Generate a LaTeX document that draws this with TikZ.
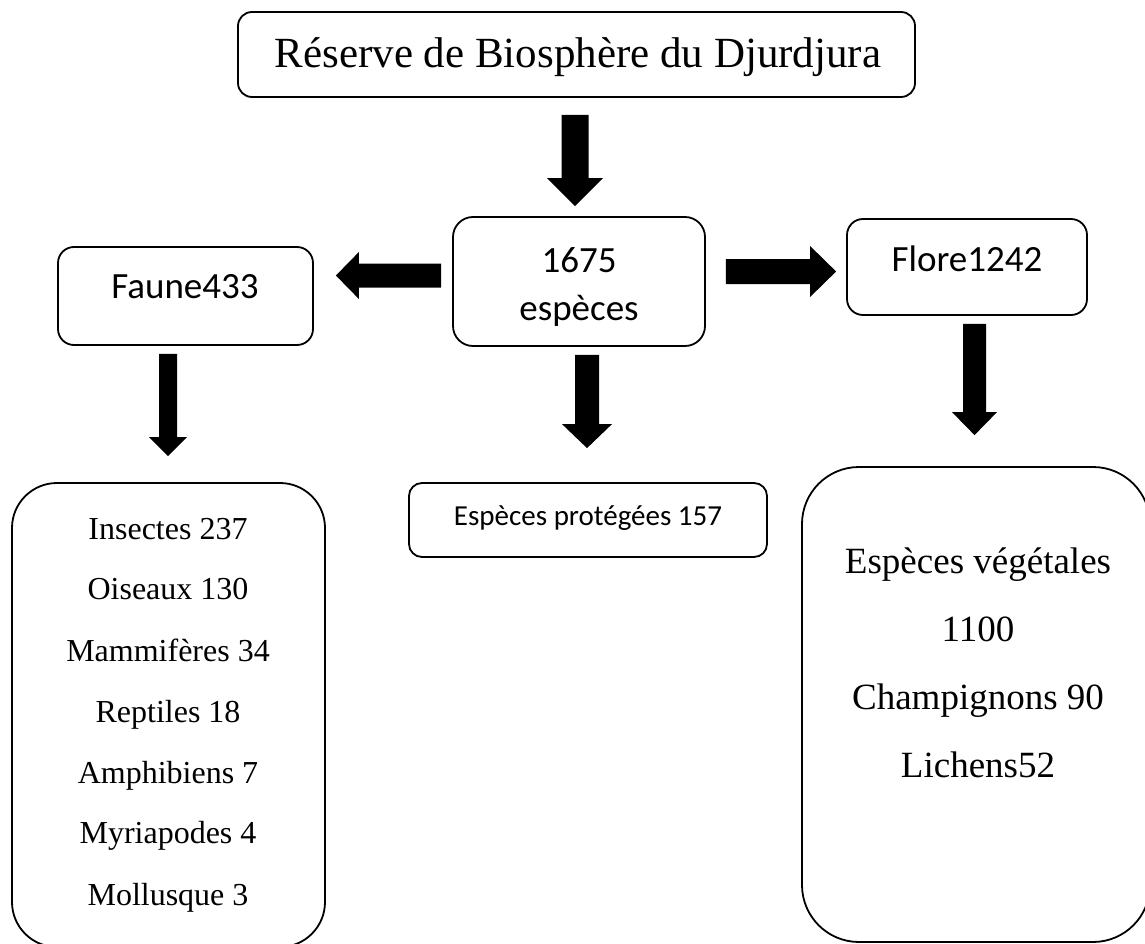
\documentclass[tikz,border=0pt]{standalone}
\usepackage{fontspec}
\setmainfont{Liberation Serif}
\newfontfamily\calib{Carlito}
\usetikzlibrary{calc}
\newcommand\blockV[5]{\fill let \p1=(#1),\p2=(#2) in ({\x1-#3},\y1) -- ({\x1+#3},\y1) -- ({\x1+#3},{\y2+(#5)}) -- ({\x1+#4},{\y2+(#5)}) -- (\x1,\y2) -- ({\x1-#4},{\y2+(#5)}) -- ({\x1-#3},{\y2+(#5)}) -- cycle;}
\newcommand\blockH[5]{\fill let \p1=(#1),\p2=(#2) in (\x1,{\y1-#3}) -- (\x1,{\y1+#3}) -- ({\x2+(#5)},{\y1+#3}) -- ({\x2+(#5)},{\y1+#4}) -- (\x2,\y1) -- ({\x2+(#5)},{\y1-#4}) -- ({\x2+(#5)},{\y1-#3}) -- cycle;}
\begin{document}
\begin{tikzpicture}[x=1pt,y=-1pt,
  box/.style={draw, line width=1.8pt, rectangle, inner sep=0pt},
  txt/.style={anchor=base, inner sep=0pt},
  serifL/.style={font=\fontsize{43}{50}\selectfont},
  serifM/.style={font=\fontsize{32}{38}\selectfont},
  serifB/.style={font=\fontsize{37}{44}\selectfont},
  sansM/.style={font=\calib\fontsize{37}{44}\selectfont},
  sansS/.style={font=\calib\fontsize{29}{35}\selectfont}]
\useasboundingbox (0,0) rectangle (1145,944);
\fill[white] (0,0) rectangle (1145,944);
\clip (0,0) rectangle (1145,944);

% boxes
\node[box, rounded corners=14pt, minimum width=677pt, minimum height=85pt] (reserve) at (576.5,54.5) {};
\node[box, rounded corners=20pt, minimum width=252pt, minimum height=129pt] (especes) at (579,281.5) {};
\node[box, rounded corners=16pt, minimum width=255pt, minimum height=98pt] (faune) at (185.5,296) {};
\node[box, rounded corners=16pt, minimum width=240pt, minimum height=96pt] (flore) at (967,267) {};
\node[box, rounded corners=13pt, minimum width=358pt, minimum height=74pt] (proteg) at (588,520) {};
\node[box, rounded corners=45pt, minimum width=313pt, minimum height=464pt] (faunelist) at (168.5,715) {};
\node[box, rounded corners=57pt, minimum width=348pt, minimum height=475pt] (florelist) at (976,704.5) {};

% texts
\node[txt, serifL] (t0) at (578,68) {Réserve de Biosphère du Djurdjura};
\node[txt, sansM] (t1) at (579,272) {1675};
\node[txt, sansM] (t2) at (579,320) {espèces};
\node[txt, sansM] (t3) at (185,298) {Faune433};
\node[txt, sansM] (t4) at (967,271) {Flore1242};
\node[txt, sansS] (t5) at (588,525) {Espèces protégées 157};

\node[txt, serifM] (f1) at (168,539) {Insectes 237};
\node[txt, serifM] (f2) at (168,599) {Oiseaux 130};
\node[txt, serifM] (f3) at (168,661) {Mammifères 34};
\node[txt, serifM] (f4) at (168,722) {Reptiles 18};
\node[txt, serifM] (f5) at (168,783) {Amphibiens 7};
\node[txt, serifM] (f6) at (168,843) {Myriapodes 4};
\node[txt, serifM] (f7) at (168,905) {Mollusque 3};

\node[txt, serifB] (g1) at (978,573) {Espèces végétales};
\node[txt, serifB] (g2) at (978,641) {1100};
\node[txt, serifB] (g3) at (978,709) {Champignons 90};
\node[txt, serifB] (g4) at (978,777) {Lichens52};

% arrow end points
\coordinate (a1s) at ($(reserve.south)+(-1.5,17)$);
\coordinate (a1e) at ($(especes.north)+(-4,-10)$);
\coordinate (a2s) at ($(especes.west)+(-11,-6)$);
\coordinate (a2e) at ($(faune.east)+(22,-20.5)$);
\coordinate (a3s) at ($(especes.east)+(20,-10)$);
\coordinate (a3e) at ($(flore.west)+(-10,4.5)$);
\coordinate (a4s) at ($(especes.south)+(8,8)$);
\coordinate (a4e) at ($(proteg.north)+(-1,-34)$);
\coordinate (a5s) at ($(faune.south)+(-17.5,8)$);
\coordinate (a5e) at ($(faunelist.north)+(-0.5,-26)$);
\coordinate (a6s) at ($(flore.south)+(7.5,8)$);
\coordinate (a6e) at ($(florelist.north)+(-1.5,-31)$);

% block arrows
\blockV{a1s}{a1e}{13.5pt}{28pt}{28pt}
\blockH{a2s}{a2e}{12pt}{23.5pt}{23pt}
\blockH{a3s}{a3e}{12.5pt}{25.5pt}{-26pt}
\blockV{a4s}{a4e}{12pt}{25pt}{24pt}
\blockV{a5s}{a5e}{9pt}{19pt}{19pt}
\blockV{a6s}{a6e}{11.5pt}{22.5pt}{23pt}
\end{tikzpicture}
\end{document}
